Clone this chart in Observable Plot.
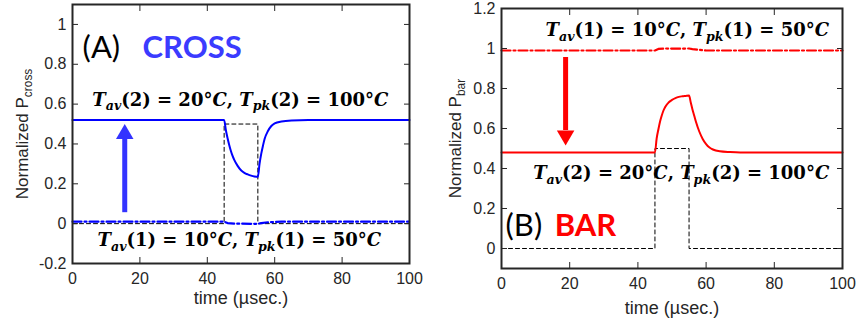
<!DOCTYPE html>
<html><head><meta charset="utf-8">
<script src="https://cdn.jsdelivr.net/npm/d3@7"></script>
<script src="https://cdn.jsdelivr.net/npm/@observablehq/plot@0.6"></script>
<style>
body{margin:0;background:#fff;}
#row{display:flex;width:857px;height:320px;overflow:hidden;}
#row svg{display:block;}
</style></head><body><div id="row"></div>
<script>
// ---- data ----
const xTicks = [0, 20, 40, 60, 80, 100];
const crossYTicks = [-0.2, 0, 0.2, 0.4, 0.6, 0.8, 1];
const barYTicks = [0, 0.2, 0.4, 0.6, 0.8, 1, 1.2];

const pulseTime = [0, 45, 45, 55, 55, 100];
const pulseValue = [0, 0, 0.5, 0.5, 0, 0];

const crossSolidTime = [0,45,45.5,46,46.5,47,47.5,48,49,50,51,52,53,54,55,55.5,56,56.5,57,58,59,60,62,65,70,100];
const crossSolidValue = [0.52,0.52,0.47,0.43,0.395,0.365,0.34,0.32,0.29,0.268,0.255,0.247,0.241,0.237,0.235,0.30,0.35,0.39,0.425,0.465,0.49,0.503,0.513,0.518,0.52,0.52];

const crossDashTime = [0,45,46,48,55,56,58,62,100];
const crossDashValue = [0.01,0.01,0.003,0.0,-0.001,0.003,0.007,0.01,0.01];

const barSolidTime = [0,45,45.5,46,46.5,47,47.5,48,49,50,51,52,53,54,55,55.5,56,56.5,57,58,59,60,61,62,64,67,70,100];
const barSolidValue = [0.48,0.48,0.55,0.595,0.635,0.665,0.69,0.708,0.73,0.743,0.752,0.758,0.761,0.763,0.765,0.73,0.695,0.665,0.635,0.585,0.548,0.522,0.505,0.495,0.486,0.482,0.48,0.48];

const barDashTime = [0,45,46,48,52,55,56,58,60,100];
const barDashValue = [0.99,0.99,0.998,1.0,0.999,1.0,0.997,0.993,0.99,0.99];

// arrows: time, tail value, head-base value, tip value
const crossArrow = {time: 15.5, from: 0.055, base: 0.43, to: 0.50};
const barArrow = {time: 18.8, from: 0.955, base: 0.59, to: 0.515};

const label1 = "T_{av}(1) = 10°C, T_{pk}(1) = 50°C";
const label2 = "T_{av}(2) = 20°C, T_{pk}(2) = 100°C";
const xLabel = "time (µsec.)";
const crossYLabel = "Normalized P_{cross}";
const barYLabel = "Normalized P_{bar}";

// ---- helpers ----
const BLUE = "#0000ff", RED = "#ff0000", INK = "#262626";
const dashDot = "9,3,2,3";

function frameMarks(yTicks, yLabel, xLabelOffset, yLabelOffset) {
  return [
    Plot.axisX(xTicks, {anchor: "bottom", tickSize: 0, tickPadding: 9, tickFormat: d => String(d), fontSize: 16, label: null}),
    Plot.axisX(xTicks, {anchor: "bottom", tickSize: -6, tickFormat: () => "", stroke: INK, fontSize: 18,
      label: xLabel, labelAnchor: "center", labelOffset: xLabelOffset, labelArrow: "none"}),
    Plot.axisX(xTicks, {anchor: "top", tickSize: -6, tickFormat: () => "", label: null, stroke: INK}),
    Plot.axisY(yTicks, {anchor: "left", tickSize: 0, tickPadding: 6, tickFormat: d => String(d), fontSize: 16, label: null}),
    Plot.axisY(yTicks, {anchor: "left", tickSize: -6, tickFormat: () => "", stroke: INK, fontSize: 17,
      label: yLabel, labelAnchor: "center", labelOffset: yLabelOffset, labelArrow: "none"}),
    Plot.axisY(yTicks, {anchor: "right", tickSize: -6, tickFormat: () => "", label: null, stroke: INK}),
    Plot.frame({stroke: INK, strokeWidth: 2})
  ];
}

const baseStyle = {fontFamily: "'Liberation Sans', Arial, sans-serif", fontSize: "17px", color: INK, background: "white"};
const mathFont = {fontFamily: "'DejaVu Serif', serif", fontWeight: "bold", fontSize: 18, fill: "black"};

function arrowMarks(a, color) {
  const up = a.to > a.from;
  return [
    Plot.ruleX([a.time], {y1: a.from, y2: a.base, stroke: color, strokeWidth: 5}),
    Plot.dot([a.time], {x: d => d, y: a.to, symbol: "triangle", r: 6.5, fill: color, stroke: "none",
      rotate: up ? 0 : 180, dy: up ? 10 : -10})
  ];
}

const plotA = Plot.plot({
  width: 430, height: 320, marginLeft: 72, marginRight: 21, marginTop: 4, marginBottom: 57,
  style: baseStyle,
  x: {domain: [0, 100]},
  y: {domain: [-0.2, 1.1]},
  marks: [
    Plot.line(pulseValue, {x: pulseTime, y: pulseValue, stroke: "black", strokeWidth: 1, strokeDasharray: "4,3"}),
    Plot.line(crossSolidValue, {x: crossSolidTime, y: crossSolidValue, stroke: BLUE, strokeWidth: 2, curve: "monotone-x"}),
    Plot.line(crossDashValue, {x: crossDashTime, y: crossDashValue, stroke: BLUE, strokeWidth: 2.2, strokeDasharray: dashDot}),
    ...arrowMarks(crossArrow, "#3333ff"),
    Plot.text(["(A)"], {x: 3, y: 0.88, textAnchor: "start", fontFamily: "Lato", fontSize: 31, fill: "black"}),
    Plot.text(["CROSS"], {x: 20.8, y: 0.88, textAnchor: "start", fontFamily: "Lato", fontWeight: "bold", fontSize: 31, fill: "#3b3bff"}),
    Plot.text([label2], {x: 49.8, y: 0.62, ...mathFont}),
    Plot.text([label1], {x: 49.5, y: -0.085, ...mathFont}),
    ...frameMarks(crossYTicks, crossYLabel, 40, 57)
  ]
});

const plotB = Plot.plot({
  width: 427, height: 320, marginLeft: 71, marginRight: 15, marginTop: 8, marginBottom: 52,
  style: baseStyle,
  x: {domain: [0, 100]},
  y: {domain: [-0.1, 1.2]},
  marks: [
    Plot.line(pulseValue, {x: pulseTime, y: pulseValue, stroke: "black", strokeWidth: 1, strokeDasharray: "4,3"}),
    Plot.line(barSolidValue, {x: barSolidTime, y: barSolidValue, stroke: RED, strokeWidth: 2, curve: "monotone-x"}),
    Plot.line(barDashValue, {x: barDashTime, y: barDashValue, stroke: RED, strokeWidth: 2.2, strokeDasharray: dashDot}),
    ...arrowMarks(barArrow, RED),
    Plot.text(["(B)"], {x: 1.2, y: 0.11, textAnchor: "start", fontFamily: "Lato", fontSize: 31, fill: "black"}),
    Plot.text(["BAR"], {x: 15.6, y: 0.11, textAnchor: "start", fontFamily: "Lato", fontWeight: "bold", fontSize: 31, fill: RED}),
    Plot.text([label1], {x: 54.5, y: 1.09, ...mathFont}),
    Plot.text([label2], {x: 52.7, y: 0.375, ...mathFont}),
    ...frameMarks(barYTicks, barYLabel, 45, 53)
  ]
});

const row = document.getElementById("row");
row.appendChild(plotA);
row.appendChild(plotB);

// rich text: subscripts written as _{...}; math labels get italic letters
function enrich(node) {
  const s = node.textContent;
  if (!s.includes("_{")) return;
  const math = s.includes("°");
  node.textContent = "";
  const re = /_\{([^}]*)\}|([A-Za-z])|([^A-Za-z_]+)/g;
  let m, pendingBack = false;
  while ((m = re.exec(s))) {
    const t = document.createElementNS("http://www.w3.org/2000/svg", "tspan");
    if (m[1] !== undefined) {
      t.textContent = m[1];
      t.setAttribute("font-size", "70%");
      t.setAttribute("dy", "0.36em");
      if (math) t.setAttribute("font-style", "italic");
      pendingBack = true;
    } else {
      t.textContent = m[2] !== undefined ? m[2] : m[3];
      if (pendingBack) { t.setAttribute("dy", "-0.252em"); pendingBack = false; }
      if (math && m[2] !== undefined) t.setAttribute("font-style", "italic");
    }
    node.appendChild(t);
  }
}
for (const svg of row.querySelectorAll("svg")) {
  for (const text of svg.querySelectorAll("text")) {
    const spans = text.querySelectorAll("tspan");
    if (spans.length) spans.forEach(enrich); else enrich(text);
  }
}
</script></body></html>
